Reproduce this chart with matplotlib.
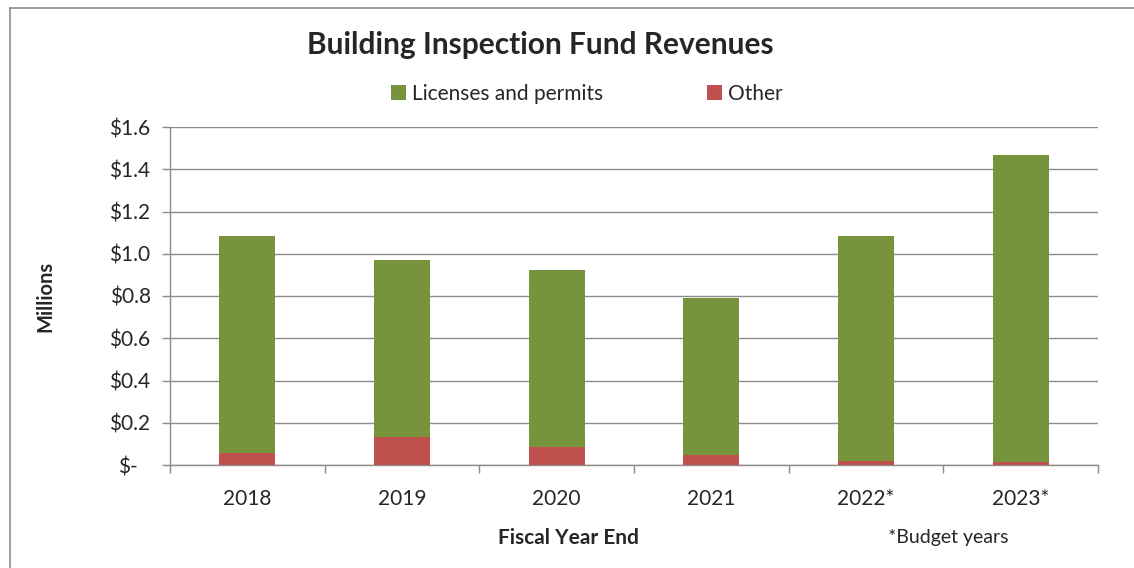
import matplotlib
matplotlib.use("Agg")
import matplotlib.pyplot as plt
import numpy as np
from matplotlib.lines import Line2D
from matplotlib.transforms import ScaledTranslation

plt.rcParams['font.family'] = ['Lato', 'DejaVu Sans']

categories = ["2018", "2019", "2020", "2021", "2022*", "2023*"]
other = [0.055, 0.134, 0.084, 0.046, 0.017, 0.016]
licenses = [1.029, 0.836, 0.839, 0.744, 1.067, 1.451]
yticks = [0.0, 0.2, 0.4, 0.6, 0.8, 1.0, 1.2, 1.4, 1.6]
ytick_labels = ["$-", "$0.2", "$0.4", "$0.6", "$0.8", "$1.0", "$1.2", "$1.4", "$1.6"]

GREEN = "#77933C"
RED = "#C0504D"
GRID = "#8C8C8C"
TXT = "#262626"

W, H = 1134, 568
fig = plt.figure(figsize=(W / 100, H / 100), dpi=100)
ax = fig.add_axes([170 / W, 1 - 465 / H, (1098 - 170) / W, (465 - 127) / H])

x = np.arange(len(categories))
bw = 0.36
ax.bar(x, other, bw, color=RED, label="Other", zorder=3)
ax.bar(x, licenses, bw, bottom=other, color=GREEN, label="Licenses and permits", zorder=3)

ax.set_xlim(-0.5, len(categories) - 0.5)
ax.set_ylim(0, 1.6)
ax.set_yticks(yticks)
ax.set_yticklabels(ytick_labels)
ax.set_xticks(x)
ax.set_xticklabels(categories)
ax.set_xticks(np.arange(-0.5, len(categories), 1.0), minor=True)

ax.grid(axis='y', color=GRID, linewidth=1.0, zorder=0)
ax.set_axisbelow(True)
for s in ['top', 'right']:
    ax.spines[s].set_visible(False)
for s in ['left', 'bottom']:
    ax.spines[s].set_color(GRID)
    ax.spines[s].set_linewidth(1.0)

ax.tick_params(axis='x', which='major', length=0, pad=17, labelsize=15, labelcolor=TXT)
ax.tick_params(axis='x', which='minor', length=6, width=1.0, color=GRID, direction='out')
ax.tick_params(axis='y', length=6, width=1.0, color=GRID, direction='out', pad=8,
               labelsize=15, labelcolor=TXT)

# shift zero label like accounting format
lbl0 = ax.get_yticklabels()[0]
lbl0.set_transform(lbl0.get_transform() + ScaledTranslation(-9 / 72, 0, fig.dpi_scale_trans))

ax.set_ylabel("Millions", fontsize=14.5, fontweight='bold', color=TXT, labelpad=0)
ax.yaxis.set_label_coords(-0.123, 0.5)

fig.text(540 / W, 1 - 45 / H, "Building Inspection Fund Revenues", fontsize=21.5,
         fontweight='bold', color=TXT, ha='center', va='center')
fig.text(568 / W, 1 - 538 / H, "Fiscal Year End", fontsize=15, fontweight='bold',
         color=TXT, ha='center', va='center')
fig.text(948 / W, 1 - 538 / H, "*Budget years", fontsize=14, color=TXT,
         ha='center', va='center')

handles, labels = ax.get_legend_handles_labels()
leg = fig.legend(handles[::-1], labels[::-1], loc='center', bbox_to_anchor=(587 / W, 1 - 94 / H),
                 ncol=2, frameon=False, fontsize=15, handlelength=0.7, handleheight=0.7,
                 handletextpad=0.3, columnspacing=5.0)
for t in leg.get_texts():
    t.set_color(TXT)

# outer chart border
bc = "#8C8C8C"
fig.add_artist(Line2D([10 / W, 10 / W], [0, 1 - 8 / H], color=bc, linewidth=1.2))
fig.add_artist(Line2D([10 / W, 1.0], [1 - 8 / H, 1 - 8 / H], color=bc, linewidth=1.2))

fig.savefig("out.png", dpi=100, facecolor='white')
